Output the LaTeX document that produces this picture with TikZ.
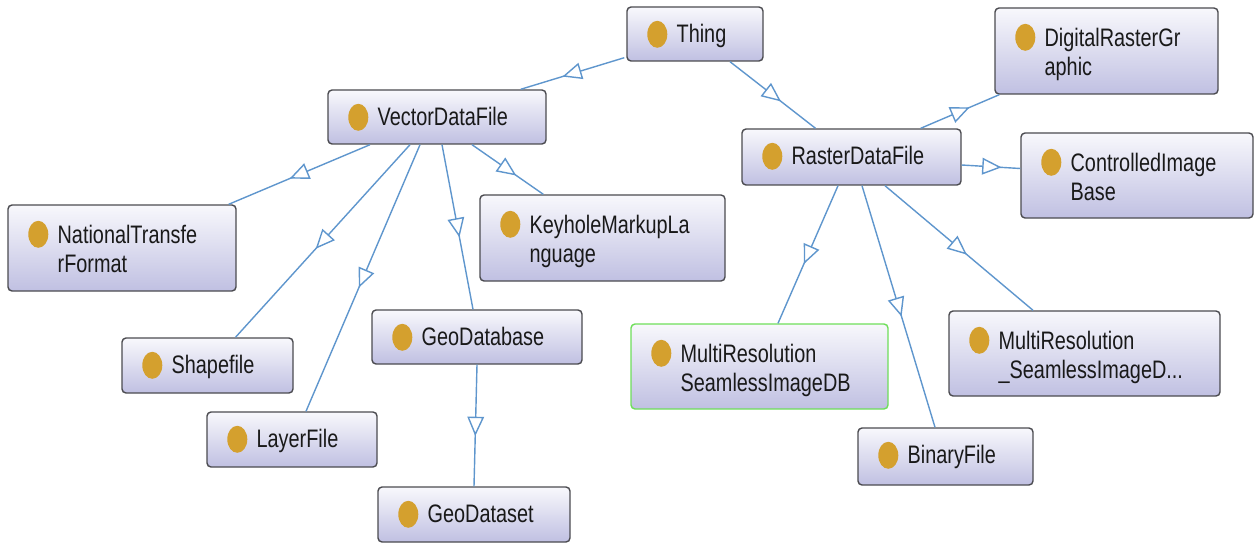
\documentclass[tikz,border=0pt]{standalone}
\usepackage{fontspec}
\setmainfont{Liberation Sans}[FakeStretch=0.785]
\usetikzlibrary{arrows.meta,calc,decorations.markings}

\definecolor{edgeblue}{RGB}{95,150,205}
\definecolor{boxline}{RGB}{75,75,80}
\definecolor{boxtop}{RGB}{248,248,252}
\definecolor{boxbottom}{RGB}{192,192,226}
\definecolor{dotgold}{RGB}{212,160,46}
\definecolor{selgreen}{RGB}{110,222,90}
\definecolor{labeltext}{RGB}{25,25,25}

\tikzset{
  classbox/.style={draw=boxline, line width=0.8pt, rounded corners=2.3pt,
    top color=boxtop, bottom color=boxbottom, inner sep=0pt},
  selected/.style={draw=selgreen},
  classdot/.style={fill=dotgold},
  classlabel/.style={anchor=base west, inner sep=0pt, text=labeltext,
    font=\fontsize{14.4}{17}\selectfont},
  isa/.style={draw=edgeblue, line width=0.8pt, postaction={decorate},
    decoration={markings, mark=at position 0.5 with
      {\arrow[xshift=6pt, color=edgeblue]{Triangle[length=11pt,width=9.5pt,fill=white]}}}}
}

% \classnode[extra style]{name}{x1}{y1}{x2}{y2}{first line}{second line}
\newcommand\classnode[8][]{%
  \node[classbox, #1, minimum width={(#5-#3)*0.02cm}, minimum height={(#6-#4)*0.02cm}]
    (#2) at ({(#3+#5)/2},{(#4+#6)/2}) {};
  \if\relax\detokenize{#8}\relax
    \fill[classdot] ($(#2.north west)+(31,28)$) ellipse [x radius=0.2cm, y radius=0.27cm];
    \node[classlabel] (#2-l1) at ($(#2.north west)+(50,36)$) {#7};
  \else
    \fill[classdot] ($(#2.north west)+(31,30)$) ellipse [x radius=0.2cm, y radius=0.27cm];
    \node[classlabel] (#2-l1) at ($(#2.north west)+(50,39)$) {#7};
    \node[classlabel] (#2-l2) at ($(#2.north west)+(50,68)$) {#8};
  \fi
}

\begin{document}
\begin{tikzpicture}[x=0.02cm, y=-0.02cm]
  \useasboundingbox (0,0) rectangle (1255,544);

  % classes
  \classnode{thing}{627}{7}{763}{61}{Thing}{}
  \classnode{vdf}{328}{90}{546}{144}{VectorDataFile}{}
  \classnode{drg}{995}{8}{1218}{94}{DigitalRasterGr}{aphic}
  \classnode{rdf}{742}{129}{961}{185}{RasterDataFile}{}
  \classnode{cib}{1021}{133}{1253}{218}{ControlledImage}{Base}
  \classnode{ntf}{8}{205}{236}{291}{NationalTransfe}{rFormat}
  \classnode{kml}{480}{195}{725}{281}{KeyholeMarkupLa}{nguage}
  \classnode{shp}{122}{338}{293}{393}{Shapefile}{}
  \classnode{gdb}{372}{310}{582}{364}{GeoDatabase}{}
  \classnode[selected]{mrs}{631}{324}{888}{409}{MultiResolution}{SeamlessImageDB}
  \classnode{mrd}{949}{311}{1220}{396}{MultiResolution}{\_SeamlessImageD...}
  \classnode{lyr}{207}{412}{377}{467}{LayerFile}{}
  \classnode{bin}{858}{428}{1033}{485}{BinaryFile}{}
  \classnode{gds}{378}{487}{570}{542}{GeoDataset}{}

  % subclass links
  \draw[isa] ($(thing.south west)+(-2,-4)$) -- ($(vdf.north east)+(-26,0)$);
  \draw[isa] ($(thing.south)+(35,0)$) -- ($(rdf.north)+(-36,0)$);
  \draw[isa] ($(vdf.south)+(-67,0)$) -- ($(ntf.north east)+(-8,0)$);
  \draw[isa] ($(vdf.south)+(-27,0)$) -- ($(shp.north)+(28,0)$);
  \draw[isa] ($(vdf.south)+(-17,0)$) -- ($(lyr.north)+(14,0)$);
  \draw[isa] ($(vdf.south)+(5,0)$) -- ($(gdb.north)+(-4,0)$);
  \draw[isa] ($(vdf.south)+(35,0)$) -- ($(kml.north west)+(64,0)$);
  \draw[isa] (gdb.south) -- (gds.north);
  \draw[isa] ($(rdf.north east)+(-41,0)$) -- ($(drg.south west)+(5,0)$);
  \draw[isa] ($(rdf.east)+(0,8)$) -- ($(cib.west)+(0,-7)$);
  \draw[isa] ($(rdf.south)+(-13.5,0)$) -- ($(mrs.north)+(18.5,0)$);
  \draw[isa] ($(rdf.south)+(10.5,0)$) -- ($(bin.north)+(-10.5,0)$);
  \draw[isa] ($(rdf.south)+(33.5,0)$) -- ($(mrd.north)+(-51.5,0)$);
\end{tikzpicture}
\end{document}
